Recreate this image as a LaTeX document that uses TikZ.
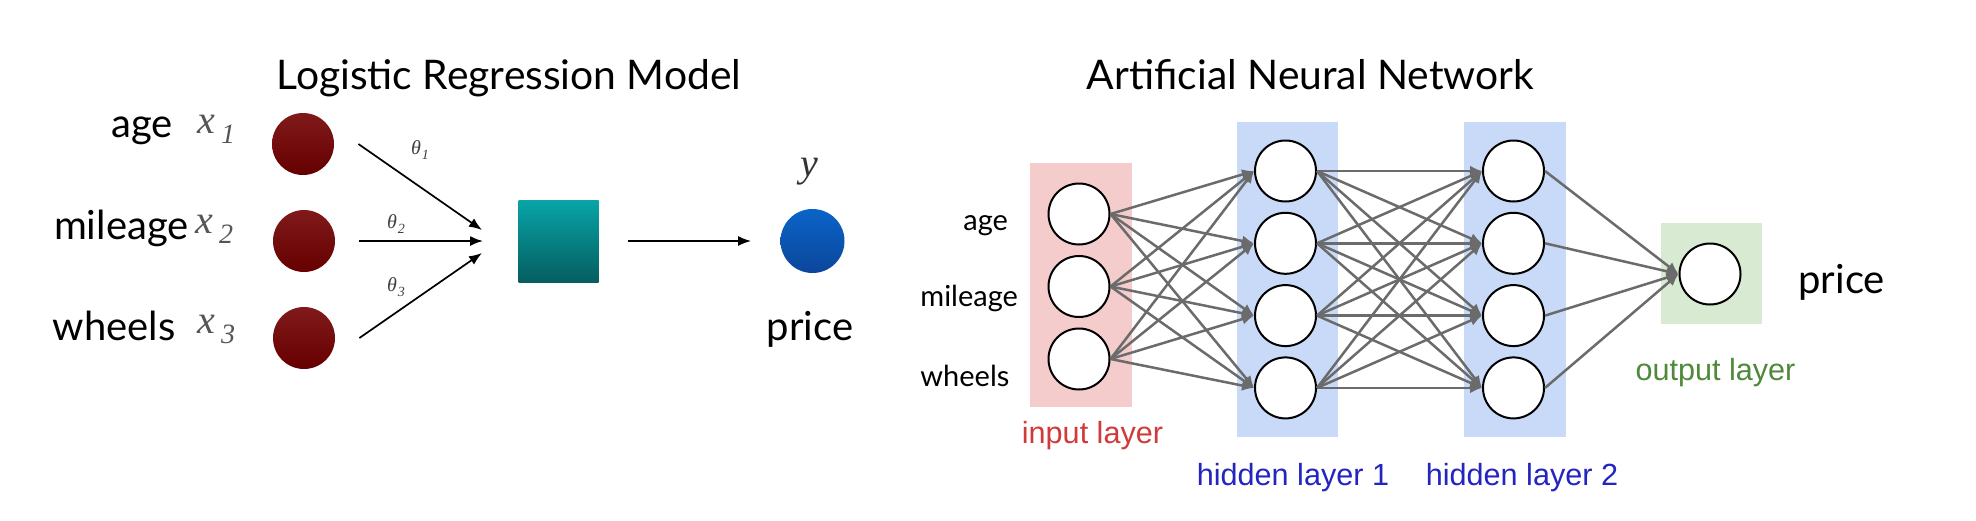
\documentclass[tikz,border=0pt]{standalone}
\usepackage{fontspec}
\setmainfont{Lato}
\newfontfamily\arialfont{Liberation Sans}
\newfontfamily\timesfont{Liberation Serif}
\usetikzlibrary{arrows.meta}

% Colori
\definecolor{boxin}{HTML}{F4CCCC}
\definecolor{boxhid}{HTML}{C9DAF8}
\definecolor{boxout}{HTML}{D9EAD3}
\definecolor{txtin}{HTML}{D03A3A}
\definecolor{txthid}{HTML}{2424C0}
\definecolor{txtout}{HTML}{4F8A3A}
\definecolor{grigio}{HTML}{6B6B6B}
\definecolor{grigiox}{HTML}{555555}

% Variabili in stile Times: x_i, theta_i
\newcommand{\xvar}[1]{{\timesfont\itshape\fontsize{20pt}{24pt}\selectfont x\kern3pt\raisebox{-5pt}{\fontsize{14pt}{16pt}\selectfont #1}}}
\newcommand{\thvar}[1]{{\timesfont\itshape\fontsize{10pt}{12pt}\selectfont θ\kern0.5pt\raisebox{-2.5pt}{\fontsize{7pt}{8pt}\selectfont #1}}}

\tikzset{
  titolo/.style={anchor=base, font=\fontsize{20.4pt}{24pt}\selectfont},
  etich/.style={inner sep=0pt, font=\fontsize{20pt}{24pt}\selectfont},
  etichnn/.style={inner sep=0pt, anchor=base west, font=\fontsize{14.5pt}{17pt}\selectfont},
  strato/.style={anchor=base, font=\arialfont\fontsize{15.3pt}{18pt}\selectfont},
  pallino/.style={circle, inner sep=0pt, minimum size=31pt},
  neuron/.style={circle, draw=black, line width=1pt, fill=white, inner sep=0pt, minimum size=30.5pt},
  freccia/.style={line width=0.85pt, -{Latex[length=6.5pt,width=5pt]}},
  conn/.style={draw=grigio, line width=1.25pt, -{Latex[length=6pt,width=5.5pt]}},
}

\begin{document}
\begin{tikzpicture}[x=0.5pt, y=-0.5pt]
		% Sfondo e dimensioni del disegno (coordinate in pixel)
		\fill[white] (0,0) rectangle (1976,520);
		\useasboundingbox (0,0) rectangle (1976,520);
		
		% --- Titoli ---
		\node[titolo] (tlr) at (509,89) {Logistic Regression Model};
		\node[titolo] (tnn) at (1310.5,89) {Artificial Neural Network};
		
		% --- Regressione logistica ---
		% Ingressi
		\node[etich, anchor=base east] (age) at (173,137) {age};
		\node[etich, anchor=base east] (mil) at (189,239) {mileage};
		\node[etich, anchor=base east] (whe) at (176,340) {wheels};
		\node[anchor=base west, text=grigiox, inner sep=0pt] (x1) at (197,133) {\xvar{1}};
		\node[anchor=base west, text=grigiox, inner sep=0pt] (x2) at (195,233) {\xvar{2}};
		\node[anchor=base west, text=grigiox, inner sep=0pt] (x3) at (197,333) {\xvar{3}};
		\node[pallino, top color=red!45!black!90!white, bottom color=red!40!black] (r1) at (303,144) {};
		\node[pallino, top color=red!45!black!90!white, bottom color=red!40!black] (r2) at (304,241) {};
		\node[pallino, top color=red!45!black!90!white, bottom color=red!40!black] (r3) at (304,338) {};
		
		% Punti di arrivo dei pesi, davanti al blocco
		\coordinate (j1) at (482,230);
		\coordinate (j2) at (483,241);
		\coordinate (j3) at (482,253);
		
		% Blocco e uscita
		\node[inner sep=0pt, minimum width=40pt, minimum height=41pt,
		      top color={rgb,255:red,8;green,164;blue,167}, bottom color={rgb,255:red,5;green,94;blue,96}] (sq) at (558.5,241) {};
		\node[circle, inner sep=0pt, minimum size=32pt,
		      top color={rgb,255:red,10;green,100;blue,200}, bottom color={rgb,255:red,12;green,70;blue,155}] (out) at (812.5,241) {};
		\node[text=black!80, inner sep=0pt] (yv) at (809,172) {\timesfont\itshape\fontsize{20pt}{24pt}\selectfont y};
		\node[etich, anchor=base] (pr) at (810,340) {price};
		
		% Pesi
		\draw[freccia] ([xshift=12pt]r1.east) -- (j1);
		\draw[freccia] ([xshift=12pt]r2.east) -- (j2);
		\draw[freccia] ([xshift=12pt]r3.east) -- (j3);
		\node[text=black!75] (t1) at (420,150) {\thvar{1}};
		\node[text=black!75] (t2) at (396,224) {\thvar{2}};
		\node[text=black!75] (t3) at (396,287) {\thvar{3}};
		\draw[freccia] ([xshift=14.5pt]sq.east) -- ([xshift=-14.5pt]out.west);
		
		% --- Rete neurale ---
		% Riquadri degli strati
		\fill[boxin] (1030,163) rectangle (1132,407);
		\fill[boxhid] (1237,122) rectangle (1338,437);
		\fill[boxhid] (1464,122) rectangle (1566,437);
		\fill[boxout] (1661,223) rectangle (1762,324);
		
		% Neuroni
		\foreach \i in {1,2,3}
			\node[neuron] (in\i) at (1079, {214+72.5*(\i-1)}) {};
		\foreach \j in {1,...,4} {
			\node[neuron] (ha\j) at (1285.5, {171+72.3*(\j-1)}) {};
			\node[neuron] (hb\j) at (1513.5, {171+72.3*(\j-1)}) {};
		}
		\node[neuron] (o) at (1710,274) {};
		
		% Collegamenti
		\foreach \i in {1,2,3}
			\foreach \j in {1,...,4}
				\draw[conn] (in\i.east) -- (ha\j.west);
		\foreach \i in {1,...,4}
			\foreach \j in {1,...,4}
				\draw[conn] (ha\i.east) -- (hb\j.west);
		\foreach \i in {1,...,4}
			\draw[conn] (hb\i.east) -- (o.west);
		
		% Etichette
		\node[etichnn] (nage) at (963,230) {age};
		\node[etichnn] (nmil) at (920,306) {mileage};
		\node[etichnn] (nwhe) at (920,386) {wheels};
		\node[etich, anchor=base west] (npr) at (1798,293) {price};
		\node[strato, text=txtin] (lin) at (1092.5,443) {input layer};
		\node[strato, text=txthid] (lh1) at (1293,485) {hidden layer 1};
		\node[strato, text=txthid] (lh2) at (1522,485) {hidden layer 2};
		\node[strato, text=txtout] (lout) at (1715.5,380) {output layer};
	\end{tikzpicture}
\end{document}
